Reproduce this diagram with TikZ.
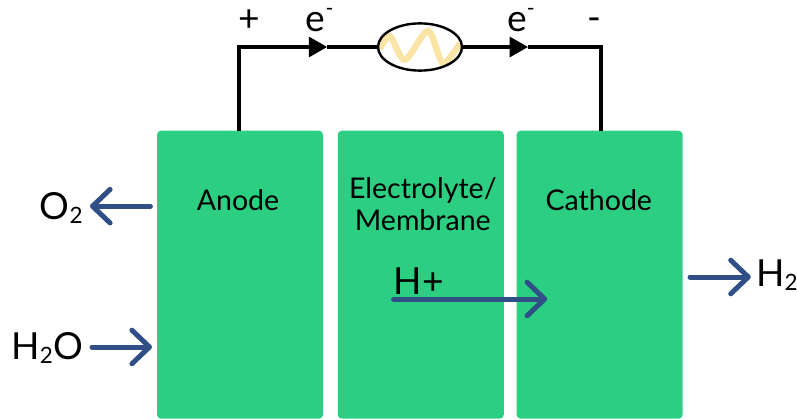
\documentclass[tikz,border=0pt]{standalone}
\usepackage{fontspec}
\setmainfont{Lato}
\usetikzlibrary{positioning,arrows.meta,shapes.geometric}
\definecolor{cellgreen}{HTML}{2CCE82}
\definecolor{flowblue}{HTML}{2F4F86}
\definecolor{wavecream}{HTML}{FBE5A6}
\tikzset{
  cell/.style={fill=cellgreen, rounded corners=0.1cm, minimum width=4.15cm, minimum height=7.2cm, anchor=south, inner sep=0pt},
  celltext/.style={font=\fontsize{20.3}{23}\selectfont, align=center, text=black},
  gastext/.style={font=\fontsize{26.5}{30}\selectfont, text=black},
  wire/.style={line width=0.08cm, black},
  flow/.style={line width=0.125cm, flowblue, line cap=round, -{Straight Barb[round, length=0.44cm, width=0.84cm, line width=0.125cm]}}
}
\newcommand{\subtwo}{\raisebox{-0.12em}{\fontsize{16}{16}\selectfont 2}}
\newcommand{\supminus}{\raisebox{0.43em}{\fontsize{15}{15}\selectfont -}}
\begin{document}
\begin{tikzpicture}
\useasboundingbox (0,0) rectangle (19.925,10.475);
\node[cell] (anode) at (6.00,0) {};
\node[cell] (membrane) at (10.52,0) {};
\node[cell] (cathode) at (14.99,0) {};
\node[celltext] (anodetext) at (5.95,5.47) {Anode};
\node[celltext] (membranetext) at (10.57,5.38) {Electrolyte/\\Membrane};
\node[celltext] (cathodetext) at (14.97,5.47) {Cathode};
\node[draw=black, line width=0.06cm, fill=white, ellipse, minimum width=2.1cm, minimum height=1.18cm, inner sep=0pt, path picture={
  \draw[wavecream, line width=0.16cm] plot[smooth] coordinates {(-1.00,-0.05) (-0.75,0.27) (-0.38,-0.32) (0.20,0.40) (0.57,-0.40) (1.00,0.10)};
}] (lamp) at (10.50,9.30) {};
% wires
\coordinate (anodeout) at (5.975,7.2);
\coordinate (cathodeout) at (15.025,7.2);
\coordinate (arrowleft) at (8.18,9.30);
\coordinate (arrowright) at (13.20,9.30);
\draw[wire, -{Triangle[length=0.46cm, width=0.5cm]}] (anodeout) |- (arrowleft);
\draw[wire] (arrowleft) -- (lamp.west);
\draw[wire, -{Triangle[length=0.46cm, width=0.5cm]}] (lamp.east) -- (arrowright);
\draw[wire] (arrowright) -| (cathodeout);
\node[gastext] (plus) at (6.22,9.96) {+};
\node[gastext, anchor=base west, inner sep=0pt] (eleft) at (7.64,9.68) {e\supminus};
\node[gastext, anchor=base west, inner sep=0pt] (eright) at (12.67,9.68) {e\supminus};
\node[gastext] (minus) at (14.85,9.87) {-};
% gases
\node[gastext] (oxygen) at (1.53,5.27) {O\subtwo};
\node[gastext] (water) at (1.18,1.78) {H\subtwo O};
\node[gastext] (hydrogen) at (19.42,3.60) {H\subtwo};
\node[gastext] (proton) at (10.47,3.45) {H+};
\coordinate (oxygenstart) at (3.76,5.32);
\coordinate (oxygenend) at (2.25,5.32);
\coordinate (waterstart) at (2.30,1.80);
\coordinate (waterend) at (3.80,1.80);
\coordinate (protonstart) at (9.84,3.00);
\coordinate (protonend) at (13.68,3.00);
\coordinate (hydrogenstart) at (17.25,3.55);
\coordinate (hydrogenend) at (18.77,3.55);
\draw[flow] (oxygenstart) -- (oxygenend);
\draw[flow] (waterstart) -- (waterend);
\draw[flow] (protonstart) -- (protonend);
\draw[flow] (hydrogenstart) -- (hydrogenend);
\end{tikzpicture}
\end{document}
